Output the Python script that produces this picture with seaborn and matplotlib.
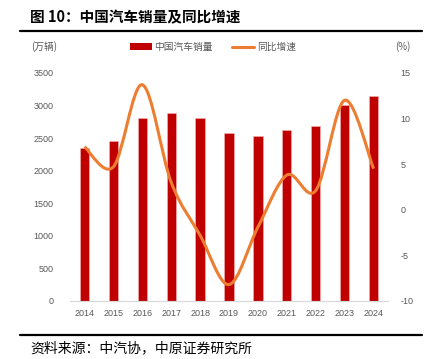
import matplotlib
matplotlib.use('Agg')
import matplotlib.pyplot as plt
from matplotlib.path import Path
from matplotlib.patches import PathPatch, Patch
from matplotlib.lines import Line2D
import seaborn as sns
import numpy as np
import pandas as pd

# data
years = ['2014', '2015', '2016', '2017', '2018', '2019', '2020', '2021', '2022', '2023', '2024']
sales = [2349, 2460, 2803, 2888, 2808, 2577, 2531, 2628, 2686, 3009, 3144]
growth = [6.9, 4.7, 13.7, 3.0, -2.8, -8.2, -1.9, 3.8, 2.1, 12.0, 4.5]

sns.set_style('white')
plt.rcParams['font.family'] = ['Liberation Sans', 'Noto Sans CJK SC', 'DejaVu Sans']
plt.rcParams['axes.unicode_minus'] = False
cjk = ['Noto Sans CJK SC', 'DejaVu Sans']

grey = '#595959'
red = '#C00000'
orange = '#ED7D31'

fig = plt.figure(figsize=(4.35, 3.59), dpi=100)
ax = fig.add_axes([0.161, 0.1616, 0.731, 0.6354])

df = pd.DataFrame({'year': years, 'sales': sales})
sns.barplot(data=df, x='year', y='sales', color=red, width=0.32,
            saturation=1, edgecolor='#F4B6B6', linewidth=0.4, ax=ax)
ax.set_ylim(0, 3500)
ax.set_yticks(range(0, 3501, 500))
ax.set_xlim(-0.5, len(years) - 0.5)
ax.set_xlabel('')
ax.set_ylabel('')
for s in ['top', 'right', 'left']:
    ax.spines[s].set_visible(False)
ax.spines['bottom'].set_color('#D9D9D9')
ax.spines['bottom'].set_linewidth(0.8)
ax.tick_params(axis='y', length=0, pad=12, labelsize=6.5, labelcolor=grey)
ax.tick_params(axis='x', which='major', length=0, pad=6, labelsize=6.5, labelcolor=grey)
ax.set_xticks(np.arange(-0.5, len(years), 1.0), minor=True)
ax.tick_params(axis='x', which='minor', length=3, color='#D9D9D9', width=0.8)

# growth line, smoothed like excel (bezier through the points)
ax2 = ax.twinx()
ax2.set_ylim(-10, 15)
ax2.set_yticks(range(-10, 16, 5))
for s in ['top', 'right', 'left', 'bottom']:
    ax2.spines[s].set_visible(False)
ax2.tick_params(axis='y', length=0, pad=9, labelsize=6.5, labelcolor=grey)
ax2.grid(False)
ax.grid(False)

xs = np.arange(len(growth), dtype=float)
ys = np.array(growth, dtype=float)
pts = np.column_stack([xs, ys])
verts = [tuple(pts[0])]
codes = [Path.MOVETO]
n = len(pts)
for i in range(n - 1):
    p0 = pts[i - 1] if i > 0 else pts[i]
    p1 = pts[i]
    p2 = pts[i + 1]
    p3 = pts[i + 2] if i + 2 < n else pts[i + 1]
    c1 = p1 + (p2 - p0) / 6.0
    c2 = p2 - (p3 - p1) / 6.0
    verts += [tuple(c1), tuple(c2), tuple(p2)]
    codes += [Path.CURVE4] * 3
ax2.add_patch(PathPatch(Path(verts, codes), facecolor='none', edgecolor=orange,
                        linewidth=2.2, capstyle='butt', joinstyle='round'))

# unit labels
fig.text(44 / 435, 1 - 47 / 359, '(万辆)', family=cjk, fontsize=7, color=grey,
         ha='center', va='center')
fig.text(403 / 435, 1 - 47 / 359, '(%)', family=cjk, fontsize=7, color=grey,
         ha='center', va='center')

# legend
handles = [Patch(facecolor=red, edgecolor='none'),
           Line2D([0], [0], color=orange, linewidth=2.2)]
leg = fig.legend(handles, ['中国汽车销量', '同比增速'], loc='center',
                 bbox_to_anchor=(213 / 435, 1 - 47 / 359), ncol=2, frameon=False,
                 prop={'family': cjk, 'size': 7}, handlelength=2.2, handleheight=0.6,
                 handletextpad=0.3, columnspacing=2.0)
for t in leg.get_texts():
    t.set_color(grey)

# title and source
fig.text(30 / 435, 1 - 17 / 359, '图 10：中国汽车销量及同比增速', family=cjk,
         fontsize=10.5, fontweight='bold', color='black', ha='left', va='center')
fig.add_artist(Line2D([20 / 435, 422 / 435], [1 - 31 / 359, 1 - 31 / 359],
                      color='black', linewidth=1.6))
fig.add_artist(Line2D([20 / 435, 422 / 435], [1 - 335 / 359, 1 - 335 / 359],
                      color='black', linewidth=1.6))
fig.text(30 / 435, 1 - 348 / 359, '资料来源：中汽协，中原证券研究所', family=cjk,
         fontsize=10, color='black', ha='left', va='center')

fig.savefig('out.png', dpi=100)
